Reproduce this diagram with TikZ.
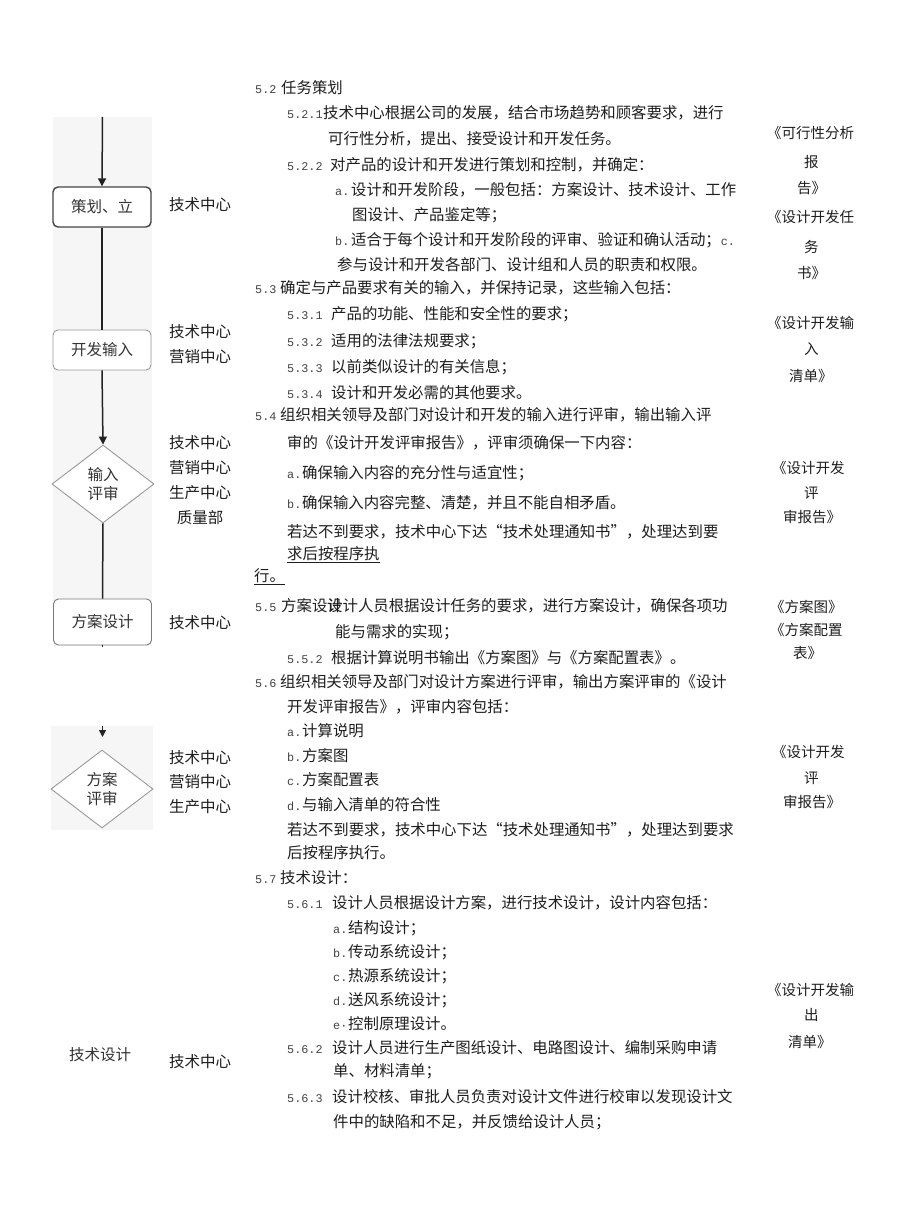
\documentclass[tikz,border=0pt]{standalone}
\usepackage{fontspec}
\setmainfont{Noto Sans CJK SC}
\newfontfamily\monofam{Liberation Mono}
\usetikzlibrary{arrows.meta,shapes.geometric}
\definecolor{txt}{HTML}{1E1E1E}
\definecolor{numc}{HTML}{444444}
\definecolor{panelc}{HTML}{F6F6F6}
\definecolor{flowtxt}{HTML}{333333}
\definecolor{boxdark}{HTML}{444444}
\definecolor{boxlight}{HTML}{999999}
\definecolor{lineblk}{HTML}{222222}
\newcommand\nm[1]{{\monofam\fontsize{11.8}{12}\selectfont\color{numc}#1}}
\newcommand\nb[2]{\makebox[#1pt][l]{\nm{#2}}}
\tikzset{
  ln/.style={anchor=west, inner sep=0pt, text height=13.55pt, text depth=1.85pt,
    font=\fontsize{15.4}{18}\selectfont, text=txt},
  dept/.style={anchor=center, inner sep=0pt, text height=13.6pt, text depth=1.9pt,
    font=\fontsize{15.5}{18}\selectfont, text=txt},
  docl/.style={anchor=west, inner sep=0pt, text height=12.8pt, text depth=1.7pt,
    font=\fontsize{14.5}{17}\selectfont, text=txt},
  procbox/.style={rectangle, rounded corners=5pt, minimum width=98pt, inner sep=0pt,
    draw=boxlight, line width=0.9pt, fill=white, text=flowtxt,
    font=\fontsize{15.5}{18}\selectfont},
  decision/.style={diamond, draw=boxlight, line width=0.9pt, minimum width=102pt,
    minimum height=78pt, inner sep=0pt, fill=white, align=center, text=flowtxt,
    font=\fontsize{15.5}{18.5}\selectfont},
  flowline/.style={draw=lineblk, line width=1.5pt},
  flowarrow/.style={flowline, -{Triangle[width=8pt,length=8pt]}},
  thinarrow/.style={draw=lineblk, line width=1pt, -{Triangle[width=7pt,length=7pt]}},
}
\begin{document}
\begin{tikzpicture}[x=1pt,y=-1pt]
\fill[white] (0,0) rectangle (920,1225);
\useasboundingbox (0,0) rectangle (920,1225);

% panels
\fill[panelc] (53,117) rectangle (152,646);
\fill[panelc] (51,726) rectangle (153,830);

% flowchart
\coordinate (top) at (102.5,117);
\node[procbox, minimum height=40pt, draw=boxdark, line width=1.4pt] (plan) at (102,207) {策划、立};
\node[procbox, minimum height=40pt] (inp) at (102,350) {开发输入};
\node[decision] (inrev) at (103,484) {输入\\评审};
\node[procbox, minimum height=46pt, draw=boxlight!80!black] (scheme) at (102.5,622) {方案设计};
\coordinate (stub) at (102.5,647);
\coordinate (a2s) at (102.5,726);
\coordinate (a2e) at (102.5,737);
\node[decision] (schrev) at (102,789) {方案\\评审};
\node[text=flowtxt, font=\fontsize{15.5}{18}\selectfont, inner sep=0pt] (tech) at (100,1055) {技术设计};

\draw[flowarrow] (top) -- (plan.north);
\draw[flowline] (plan.south) -- (inp.north);
\draw[flowarrow] (inp.south) -- (inrev.north);
\draw[flowline] (inrev.south) -- (scheme.north);
\draw[draw=lineblk, line width=1pt] (scheme.south) -- (stub);
\draw[thinarrow] (a2s) -- (a2e);

% departments
\node[dept] (d1) at (200,205) {技术中心};
\node[dept] (d2) at (200,332) {技术中心};
\node[dept] (d3) at (200,357) {营销中心};
\node[dept] (d4) at (200,443) {技术中心};
\node[dept] (d5) at (200,468) {营销中心};
\node[dept] (d6) at (200,493) {生产中心};
\node[dept] (d7) at (200,518) {质量部};
\node[dept] (d8) at (200,623) {技术中心};
\node[dept] (d9) at (200,758) {技术中心};
\node[dept] (d10) at (200,782) {营销中心};
\node[dept] (d11) at (200,807) {生产中心};
\node[dept] (d12) at (200,1062) {技术中心};

% main text
\node[ln] (t1) at (255,88) {\nb{26}{5.2}任务策划};
\node[ln] (t2) at (287,113) {\nb{36}{5.2.1}技术中心根据公司的发展，结合市场趋势和顾客要求，进行};
\node[ln] (t3) at (328,139) {可行性分析，提出、接受设计和开发任务。};
\node[ln] (t4) at (287,165) {\nb{43}{5.2.2}对产品的设计和开发进行策划和控制，并确定：};
\node[ln] (t5) at (335,190) {\nb{16}{a.}设计和开发阶段，一般包括：方案设计、技术设计、工作};
\node[ln] (t6) at (352,215) {图设计、产品鉴定等；};
\node[ln] (t7) at (335,240) {\nb{16}{b.}适合于每个设计和开发阶段的评审、验证和确认活动；\nm{c.}};
\node[ln] (t8) at (337,265) {参与设计和开发各部门、设计组和人员的职责和权限。};
\node[ln] (t9) at (255,288) {\nb{25}{5.3}确定与产品要求有关的输入，并保持记录，这些输入包括：};
\node[ln] (t10) at (287,314) {\nb{44}{5.3.1}产品的功能、性能和安全性的要求；};
\node[ln] (t11) at (287,341) {\nb{44}{5.3.2}适用的法律法规要求；};
\node[ln] (t12) at (287,367) {\nb{44}{5.3.3}以前类似设计的有关信息；};
\node[ln] (t13) at (287,393) {\nb{44}{5.3.4}设计和开发必需的其他要求。};
\node[ln] (t14) at (255,415) {\nb{25}{5.4}组织相关领导及部门对设计和开发的输入进行评审，输出输入评};
\node[ln] (t15) at (287,443) {审的《设计开发评审报告》，评审须确保一下内容：};
\node[ln] (t16) at (287,473) {\nb{15}{a.}确保输入内容的充分性与适宜性；};
\node[ln] (t17) at (287,503) {\nb{15}{b.}确保输入内容完整、清楚，并且不能自相矛盾。};
\node[ln] (t18) at (287,532) {若达不到要求，技术中心下达“技术处理通知书”，处理达到要};
\node[ln] (t19) at (287,554) {\underline{求后按程序执}};
\node[ln] (t20) at (254,576) {\underline{行。}};
\node[ln] (t21) at (255,606) {\nb{26}{5.5}方案设计};
\node[ln] (t22) at (327,606) {设计人员根据设计任务的要求，进行方案设计，确保各项功};
\node[ln] (t23) at (335,632) {能与需求的实现；};
\node[ln] (t24) at (287,658) {\nb{44}{5.5.2}根据计算说明书输出《方案图》与《方案配置表》。};
\node[ln] (t25) at (255,682) {\nb{25}{5.6}组织相关领导及部门对设计方案进行评审，输出方案评审的《设计};
\node[ln] (t26) at (287,707) {开发评审报告》，评审内容包括：};
\node[ln] (t27) at (287,731) {\nb{15}{a.}计算说明};
\node[ln] (t28) at (287,756) {\nb{15}{b.}方案图};
\node[ln] (t29) at (287,780) {\nb{15}{c.}方案配置表};
\node[ln] (t30) at (287,805) {\nb{15}{d.}与输入清单的符合性};
\node[ln] (t31) at (287,830) {若达不到要求，技术中心下达“技术处理通知书”，处理达到要求};
\node[ln] (t32) at (287,853) {后按程序执行。};
\node[ln] (t33) at (255,878) {\nb{25}{5.7}技术设计：};
\node[ln] (t34) at (287,903) {\nb{45}{5.6.1}设计人员根据设计方案，进行技术设计，设计内容包括：};
\node[ln] (t35) at (333,928) {\nb{15}{a.}结构设计；};
\node[ln] (t36) at (333,952) {\nb{15}{b.}传动系统设计；};
\node[ln] (t37) at (333,976) {\nb{15}{c.}热源系统设计；};
\node[ln] (t38) at (333,1000) {\nb{15}{d.}送风系统设计；};
\node[ln] (t39) at (333,1024) {\nb{15}{e·}控制原理设计。};
\node[ln] (t40) at (287,1048) {\nb{45}{5.6.2}设计人员进行生产图纸设计、电路图设计、编制采购申请};
\node[ln] (t41) at (333,1071) {单、材料清单；};
\node[ln] (t42) at (287,1097) {\nb{45}{5.6.3}设计校核、审批人员负责对设计文件进行校审以发现设计文};
\node[ln] (t43) at (333,1122) {件中的缺陷和不足，并反馈给设计人员；};

% documents column
\node[docl] (r1) at (767,133) {《可行性分析};
\node[docl] (r2) at (804,162) {报};
\node[docl] (r3) at (797,188) {告》};
\node[docl] (r4) at (767,217) {《设计开发任};
\node[docl] (r5) at (804,247) {务};
\node[docl] (r6) at (797,273) {书》};
\node[docl] (r7) at (767,323) {《设计开发输};
\node[docl] (r8) at (804,349) {入};
\node[docl] (r9) at (789,376) {清单》};
\node[docl] (r10) at (772,468) {《设计开发};
\node[docl] (r11) at (804,493) {评};
\node[docl] (r12) at (783,517) {审报告》};
\node[docl] (r13) at (770,607) {《方案图》};
\node[docl] (r14) at (770,630) {《方案配置};
\node[docl] (r15) at (793,653) {表》};
\node[docl] (r16) at (772,752) {《设计开发};
\node[docl] (r17) at (804,778) {评};
\node[docl] (r18) at (783,802) {审报告》};
\node[docl] (r19) at (767,990) {《设计开发输};
\node[docl] (r20) at (804,1015) {出};
\node[docl] (r21) at (788,1042) {清单》};
\end{tikzpicture}
\end{document}
